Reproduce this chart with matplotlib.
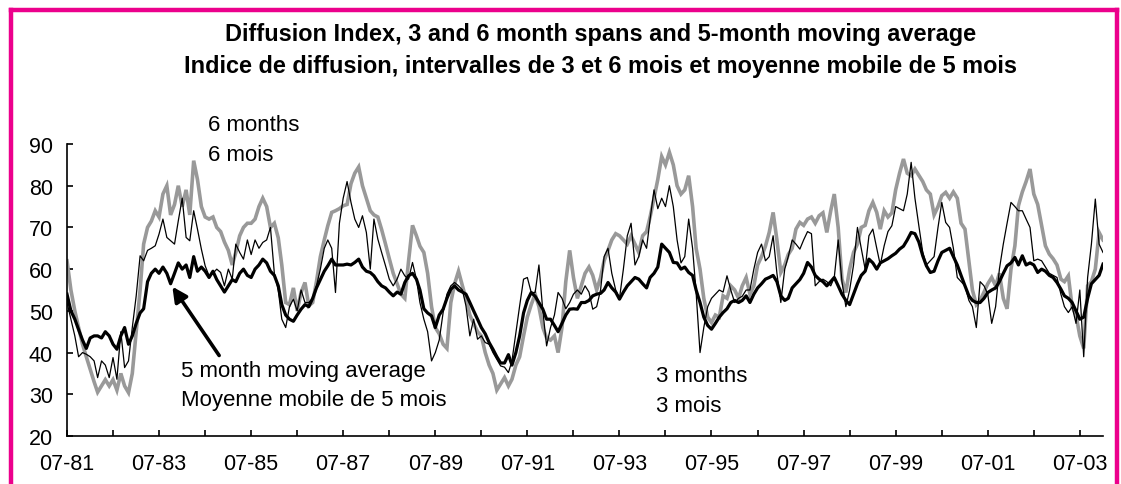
import numpy as np
import pandas as pd
import matplotlib
matplotlib.use("Agg")
import matplotlib.pyplot as plt
import matplotlib.dates as mdates
from matplotlib.lines import Line2D
from matplotlib.ticker import FuncFormatter

plt.rcParams['font.family'] = ['Liberation Sans', 'DejaVu Sans']

# monthly values, Jul 1981 .. Jan 2004 (one row = Jul..Jun)
six_month = [
    62, 55, 50, 46, 42, 39, 36, 33, 30.5, 32, 33.5, 32,
    33.5, 31, 35, 32, 30.4, 35, 45, 55, 66, 70, 71.5, 74,
    72.5, 78, 80, 73, 75.5, 80, 75, 79, 73, 86, 81.5, 75,
    72.5, 72, 72.5, 70, 69, 66.5, 64.5, 61, 64, 68, 70, 71,
    71, 72, 75, 77, 75, 70, 71, 67.5, 61, 52, 51.5, 55.5,
    50, 54.4, 56.8, 51.2, 52, 57, 63, 67, 70.4, 73.6, 74, 74.5,
    75.2, 75.5, 80.5, 83, 84.5, 80, 77, 74, 73, 72.5, 69.5, 66,
    62.5, 59, 56.5, 54, 53, 62, 70.5, 68, 65.5, 64, 59, 51,
    46, 44.5, 42, 41, 52, 56.5, 59.5, 56, 53, 49, 47, 45,
    44, 40, 37, 35, 31, 32.5, 34, 32, 33.6, 37, 39, 44,
    48.5, 51.5, 54, 51, 46, 43.5, 43, 44, 40, 46, 57, 64.5,
    58, 53, 56, 59, 60.5, 58.5, 55, 58, 62, 64.5, 67, 68.5,
    68, 67, 66, 68, 66, 64, 68, 69, 72.5, 77, 81.5, 87,
    85, 88, 85, 80, 78, 79, 82.4, 75, 65, 60, 53, 48.5,
    47.2, 49, 48.5, 53.6, 53, 56, 55, 53, 56, 58, 54, 56,
    61, 63, 65.5, 68.8, 73.6, 67, 59.2, 61, 63.5, 65, 69.6, 71.2,
    70.5, 72, 72.5, 71, 72.8, 73.5, 68.8, 74, 78, 70, 57.6, 54.4,
    60, 64, 66, 70, 70.5, 74, 76, 73.6, 69.6, 74, 72.5, 73.5,
    79, 83, 86.4, 83, 82.4, 84, 82.5, 81, 79, 78, 73, 75,
    77.6, 78.4, 77, 78.5, 77, 71, 69.6, 62, 55, 51.5, 52.5, 54.5,
    56.5, 58, 56, 59, 53, 50.5, 60, 65.6, 75.2, 78.5, 81, 84,
    78, 75.5, 70.4, 65.6, 63.6, 62.5, 61, 57.6, 57, 58.4, 51, 49,
    44, 41, 56, 57, 60, 68.8, 67,
]

three_month = [
    52, 48, 44, 39, 40, 39.6, 39, 38, 34, 38, 37, 34,
    38.8, 33.6, 45, 36.4, 38, 46, 53.6, 63.2, 62, 64.5, 65, 65.6,
    68.4, 72, 67.6, 66.8, 66, 71.6, 77, 67.6, 66.8, 74, 69.6, 64.8,
    60.8, 58.4, 59, 60, 59.2, 56, 60, 57.6, 66, 64, 62.4, 67,
    63.5, 67, 65, 66.4, 67, 70, 59, 55, 48, 46, 51, 52.8,
    50, 55, 52, 52, 53, 56, 60, 65, 67, 65, 54.4, 71,
    77, 81, 76, 72, 70, 72.8, 68.8, 60, 72, 67.2, 64, 60.8,
    57.6, 56, 57.6, 60, 58.4, 57.6, 61.6, 57.6, 52, 48, 45, 38,
    40, 43, 49.6, 54, 56, 56.8, 56, 55, 51.2, 44, 48, 43.2,
    44, 42.4, 42, 40, 38.4, 36.8, 36.5, 35.2, 38, 44.8, 51.2, 57.6,
    58, 54.4, 54.4, 61, 50, 41.6, 46, 49, 54.4, 53, 50.5, 52,
    54, 55, 54, 56, 54.5, 50.4, 51, 55, 63, 65, 59, 55,
    53, 60, 68, 71, 61, 63, 67, 65, 72, 79, 74.5, 77,
    75, 80, 75, 67, 61.5, 63, 72, 65, 54.4, 40, 46, 51,
    53, 54, 55, 54.5, 58.4, 55, 52, 53, 53.5, 55, 55, 60,
    64, 66, 62, 63, 68, 59, 52, 60, 63, 67, 66, 64.8,
    67, 69, 68.5, 56, 57, 57.6, 57, 56, 58, 67, 57, 51,
    55, 61, 70, 65, 60, 68, 69.6, 65, 61, 65.6, 69, 70.4,
    75, 74.5, 74, 78, 85.6, 77, 70.4, 64, 61, 62, 63, 70,
    76, 71.2, 70, 65, 58, 57, 56, 52.5, 51, 46, 57, 56,
    54, 47, 51, 60, 66, 71, 76, 75, 74, 74, 72, 70,
    62, 62.4, 62, 60.5, 59, 58.5, 58, 54, 51, 49.6, 51, 47,
    55, 39, 58, 66, 76.8, 66, 64,
]

moving_avg = [
    54, 50, 48, 45.5, 43, 41, 43.5, 44, 44, 43.5, 45, 44,
    42, 40.8, 44, 46, 42, 44, 47, 49.5, 50.5, 57, 59, 60,
    59, 60.5, 59, 56.5, 59, 61.5, 60, 61, 58, 63, 59.5, 60.5,
    59.5, 58, 59.5, 57.5, 56, 54.5, 56, 57.5, 57, 59, 60, 58.5,
    58, 60, 61, 62.4, 61.5, 59.5, 58.5, 56, 51.5, 49, 48, 47.5,
    49, 50.4, 51.5, 51, 53, 55.5, 57.5, 59.5, 60.8, 62.4, 61, 61,
    61, 61.2, 61, 61.6, 62.4, 60.5, 59.5, 59.2, 58.4, 57, 56, 55.5,
    54.5, 53.6, 54.5, 54, 56.8, 58.4, 59, 57.6, 55, 50.5, 49.5, 48.8,
    46, 49, 50.4, 53, 55.2, 56, 55, 54.5, 54, 52, 50, 48,
    46, 44.5, 42.4, 40.8, 39, 37.5, 37.5, 39.5, 37, 40, 44, 49.5,
    52.5, 54.4, 53.5, 52, 50.4, 48, 48, 46.5, 45, 47, 49, 50.4,
    50.5, 50.4, 52, 52, 52.5, 53.6, 54, 54.2, 55, 56.8, 55.5, 54.5,
    52.8, 54.5, 56, 57, 58, 57.6, 56.5, 55.5, 58, 59, 60.5, 66,
    65, 64, 61.6, 61.5, 60, 60.5, 59.2, 58.5, 55, 52, 48.5, 46.5,
    45.6, 47, 48.5, 49.6, 50.5, 52, 52.5, 52, 52.5, 53.6, 52, 54,
    55.5, 56.5, 57.6, 58, 58.5, 57, 53.6, 52.5, 53, 55.5, 56.5, 57.5,
    59, 61.6, 60.5, 58.5, 57.6, 57, 56, 57, 58, 56, 54, 52.5,
    51.5, 54, 56.5, 58.5, 59.5, 62.4, 61.5, 60, 61.5, 62, 62.5, 63.2,
    63.8, 64.8, 65.5, 67, 68.8, 68.5, 66.5, 63.2, 60.8, 59.2, 59.5, 62,
    64, 64.5, 65, 63, 61, 58.5, 56, 53.6, 52.5, 52, 52, 53,
    54.4, 55, 55.5, 57, 59, 60.8, 61.5, 62.8, 61, 63.2, 61, 61.5,
    61, 59.2, 60, 59.5, 58.5, 58, 56.8, 55.2, 53.6, 53, 52, 50,
    48, 48.5, 53, 56.5, 57.5, 58.5, 61.2,
]

dates = pd.date_range('1981-07-01', periods=len(moving_avg), freq='MS')

fig = plt.figure(figsize=(11.21, 4.85), dpi=100)
ax = fig.add_axes([67/1121, 48/485, 1036/1121, 292/485])

ax.plot(dates, six_month, color='#999999', lw=2.6, solid_joinstyle='miter')
ax.plot(dates, three_month, color='black', lw=0.9)
ax.plot(dates, moving_avg, color='black', lw=2.3)

ax.set_ylim(20, 90)
ax.set_xlim(dates[0], dates[-1])
ax.set_yticks(range(20, 91, 10))
ax.xaxis.set_major_locator(mdates.YearLocator(1, month=7))

def xlab(x, pos):
    d = mdates.num2date(x)
    if (d.year - 1981) % 2 == 0:
        return d.strftime('%m-%y')
    return ''

ax.xaxis.set_major_formatter(FuncFormatter(xlab))

for s in ['top', 'right']:
    ax.spines[s].set_visible(False)
for s in ['left', 'bottom']:
    ax.spines[s].set_linewidth(1.2)
ax.tick_params(axis='x', direction='in', length=4, width=1.2, pad=12, labelsize=15.5)
ax.tick_params(axis='y', direction='in', length=4, width=1.2, pad=10, labelsize=15.5)

# labels
fig.text(0.536, 1 - 35/485, 'Diffusion Index, 3 and 6 month spans and 5-month moving average',
         ha='center', va='center', fontsize=16.9, fontweight='bold')
fig.text(0.536, 1 - 66/485, 'Indice de diffusion, intervalles de 3 et 6 mois et moyenne mobile de 5 mois',
         ha='center', va='center', fontsize=16.9, fontweight='bold')

fs = 16
fig.text(208/1121, 1 - 126/485, '6 months', ha='left', va='center', fontsize=fs)
fig.text(208/1121, 1 - 156/485, '6 mois', ha='left', va='center', fontsize=fs)
fig.text(181/1121, 1 - 372/485, '5 month moving average', ha='left', va='center', fontsize=fs)
fig.text(181/1121, 1 - 401/485, 'Moyenne mobile de 5 mois', ha='left', va='center', fontsize=fs)
fig.text(656/1121, 1 - 377/485, '3 months', ha='left', va='center', fontsize=fs)
fig.text(656/1121, 1 - 407/485, '3 mois', ha='left', va='center', fontsize=fs)

ax.annotate('', xy=(pd.Timestamp('1983-10-15'), 55.8), xytext=(pd.Timestamp('1984-10-20'), 39.3),
            arrowprops=dict(arrowstyle='-|>', lw=2.6, color='black', mutation_scale=22,
                            shrinkA=0, shrinkB=0))

# magenta frame
pink = '#EC008C'
fig.add_artist(Line2D([11/1121, 1117/1121], [1 - 11/485, 1 - 11/485], transform=fig.transFigure,
                      color=pink, lw=3.2, solid_capstyle='projecting'))
fig.add_artist(Line2D([11/1121, 11/1121], [1 - 11/485, -0.05], transform=fig.transFigure,
                      color=pink, lw=3.2, solid_capstyle='projecting'))
fig.add_artist(Line2D([1117/1121, 1117/1121], [1 - 11/485, -0.05], transform=fig.transFigure,
                      color=pink, lw=3.2, solid_capstyle='projecting'))

fig.savefig('out.png', dpi=100)
